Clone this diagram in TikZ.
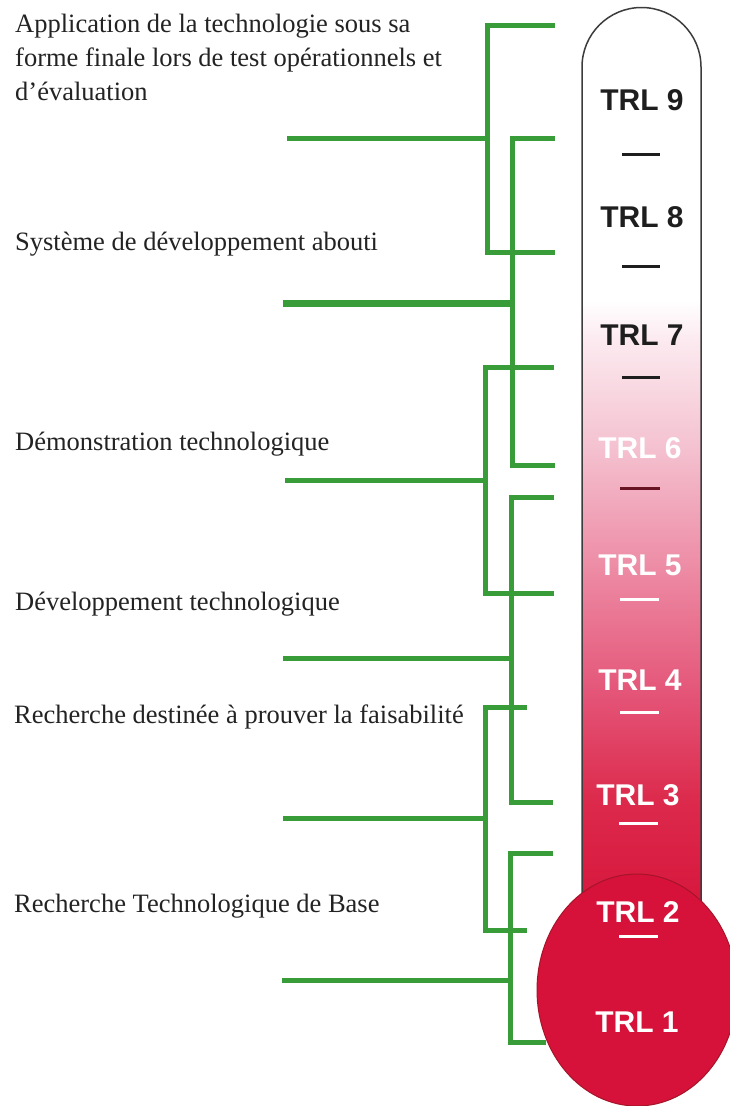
\documentclass[tikz,border=0pt]{standalone}
\usepackage{fontspec}
\setmainfont{Liberation Serif}
\newfontfamily\trlfont{Liberation Sans}
\definecolor{brgreen}{RGB}{56,156,56}
\definecolor{txt}{RGB}{35,35,35}
\definecolor{cA}{RGB}{252,236,241}
\definecolor{cB}{RGB}{244,192,207}
\definecolor{cC}{RGB}{237,138,164}
\definecolor{cD}{RGB}{228,86,121}
\definecolor{cE}{RGB}{220,42,76}
\definecolor{cF}{RGB}{215,22,60}
\definecolor{bulbred}{RGB}{214,18,58}
\definecolor{bulbedge}{RGB}{165,20,40}
\definecolor{tubeedge}{RGB}{60,60,60}
\definecolor{darktick}{RGB}{30,30,30}
\definecolor{maroontick}{RGB}{105,20,35}
\begin{document}
\begin{tikzpicture}[x=1pt,y=-1pt,
  br/.style={draw=brgreen,line width=5pt,line join=miter},
  lbl/.style={font=\fontsize{26.5}{34}\selectfont,text=txt,inner sep=0pt,anchor=base west,align=left},
  trl/.style={font=\trlfont\bfseries\fontsize{30}{30}\selectfont,inner sep=0pt},
  tick/.style={line width=3pt}]
\useasboundingbox (0,0) rectangle (730,1106);
\fill[white] (0,0) rectangle (730,1106);

% ---- thermometer tube
\begin{scope}
\clip (582,905) -- (582,67) arc[start angle=180,end angle=360,radius=59.5] -- (701,905) -- cycle;
\fill[white] (570,0) rectangle (712,301);
\shade[top color=white,bottom color=cA] (570,300) rectangle (712,336);
\shade[top color=cA,bottom color=cB] (570,335) rectangle (712,451);
\shade[top color=cB,bottom color=cC] (570,450) rectangle (712,571);
\shade[top color=cC,bottom color=cD] (570,570) rectangle (712,691);
\shade[top color=cD,bottom color=cE] (570,690) rectangle (712,801);
\shade[top color=cE,bottom color=cF] (570,800) rectangle (712,910);
\end{scope}
\draw[tubeedge,line width=1.5pt] (582,905) -- (582,67) arc[start angle=180,end angle=360,radius=59.5] -- (701,905);
% ---- bulb
\fill[bulbred,draw=bulbedge,line width=1pt] (637,990) ellipse[x radius=100,y radius=116];

% ---- TRL labels
\node[trl,text=darktick] (trl9) at (642,100) {TRL 9};
\node[trl,text=darktick] (trl8) at (642,217) {TRL 8};
\node[trl,text=darktick] (trl7) at (642,335) {TRL 7};
\node[trl,text=white]    (trl6) at (640,448) {TRL 6};
\node[trl,text=white]    (trl5) at (640,565) {TRL 5};
\node[trl,text=white]    (trl4) at (640,680) {TRL 4};
\node[trl,text=white]    (trl3) at (638,795) {TRL 3};
\node[trl,text=white]    (trl2) at (638,912) {TRL 2};
\node[trl,text=white]    (trl1) at (637,1022) {TRL 1};
% ticks
\draw[tick,darktick] (622,154) -- (660,154);
\draw[tick,darktick] (622,266) -- (660,266);
\draw[tick,darktick] (622,377) -- (660,377);
\draw[tick,maroontick] (620,488) -- (660,488);
\draw[tick,white] (620,599) -- (659,599);
\draw[tick,white] (620,712) -- (659,712);
\draw[tick,white] (619,823) -- (658,823);
\draw[tick,white] (619,936) -- (658,936);

% ---- left labels
\node[lbl] (l9) at (15,100) {Application de la technologie sous sa\\forme finale lors de test opérationnels et\\d’évaluation};
\node[lbl] (l8) at (15,250) {Système de développement abouti};
\node[lbl] (l6) at (15,450) {Démonstration technologique};
\node[lbl] (l4) at (15,610) {Développement technologique};
\node[lbl] (l3) at (14,723) {Recherche destinée à prouver la faisabilité};
\node[lbl] (l1) at (14,912) {Recherche Technologique de Base};

% ---- green brackets
% A
\coordinate (A1) at (555,25);  \coordinate (A2) at (487,25);
\coordinate (A3) at (487,252); \coordinate (A4) at (555,252);
\coordinate (As) at (287,138); \coordinate (Am) at (487,138);
\draw[br] (A1) -- (A2) -- (A3) -- (A4);
\draw[br] (As) -- (Am);
% B
\coordinate (B1) at (555,138); \coordinate (B2) at (512,138);
\coordinate (B3) at (512,465); \coordinate (B4) at (555,465);
\coordinate (Bs) at (283,303); \coordinate (Bm) at (512,303);
\draw[br] (B1) -- (B2) -- (B3) -- (B4);
\draw[br,line width=7pt] (Bs) -- (Bm);
% C
\coordinate (C1) at (554,367); \coordinate (C2) at (485,367);
\coordinate (C3) at (485,593); \coordinate (C4) at (554,593);
\coordinate (Cs) at (285,480); \coordinate (Cm) at (485,480);
\draw[br] (C1) -- (C2) -- (C3) -- (C4);
\draw[br] (Cs) -- (Cm);
% D
\coordinate (D1) at (554,497); \coordinate (D2) at (511,497);
\coordinate (D3) at (511,802); \coordinate (D4) at (553,802);
\coordinate (Ds) at (283,658); \coordinate (Dm) at (511,658);
\draw[br] (D1) -- (D2) -- (D3) -- (D4);
\draw[br] (Ds) -- (Dm);
% E
\coordinate (E1) at (527,707); \coordinate (E2) at (485,707);
\coordinate (E3) at (485,930); \coordinate (E4) at (527,930);
\coordinate (Es) at (283,818); \coordinate (Em) at (485,818);
\draw[br] (E1) -- (E2) -- (E3) -- (E4);
\draw[br] (Es) -- (Em);
% F
\coordinate (F1) at (553,853); \coordinate (F2) at (510,853);
\coordinate (F3) at (510,1042); \coordinate (F4) at (546,1042);
\coordinate (Fs) at (282,980); \coordinate (Fm) at (510,980);
\draw[br] (F1) -- (F2) -- (F3) -- (F4);
\draw[br] (Fs) -- (Fm);
\end{tikzpicture}
\end{document}
